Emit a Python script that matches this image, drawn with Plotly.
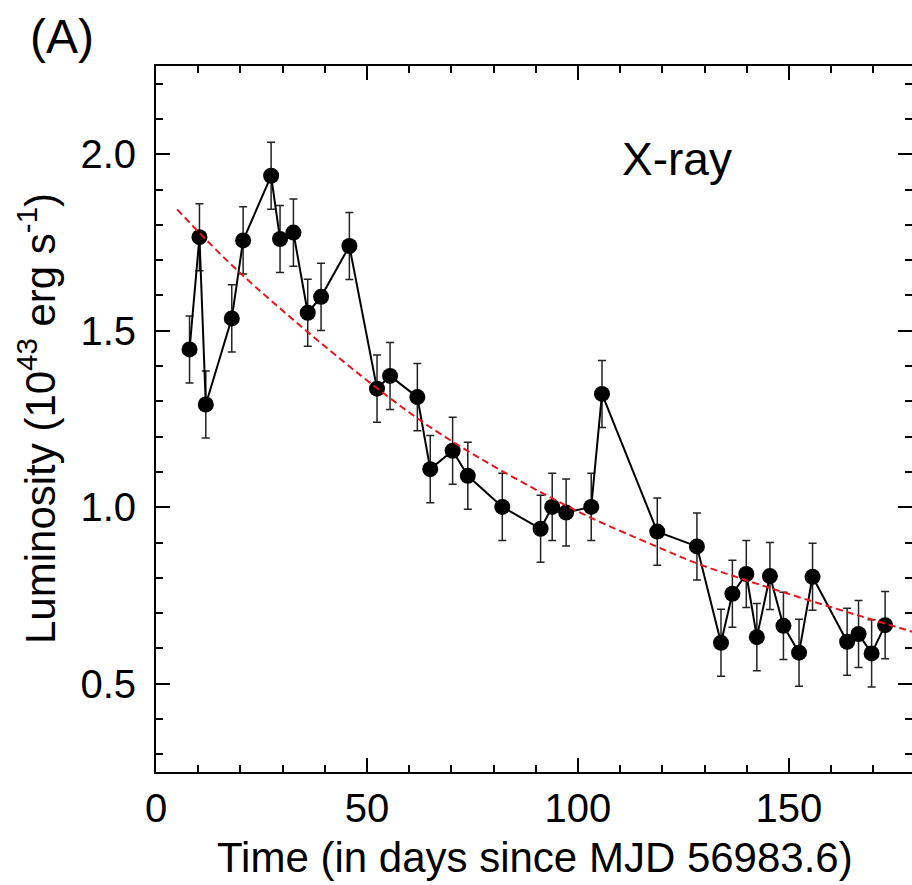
import plotly.graph_objects as go

# Observed X-ray light curve
t_days = [7.95, 10.3, 11.8, 17.96, 20.65, 27.28, 29.4, 32.57, 35.96, 39.12,
          45.83, 52.38, 55.47, 61.94, 65.0, 70.3, 73.9, 82.07, 91.15, 93.9,
          97.2, 103.15, 105.7, 118.8, 128.2, 133.9, 136.6, 139.9, 142.4, 145.5,
          148.7, 152.4, 155.6, 163.8, 166.5, 169.6, 172.8]
lum = [1.447, 1.765, 1.291, 1.535, 1.756, 1.939, 1.760, 1.778, 1.551, 1.596,
       1.740, 1.336, 1.372, 1.312, 1.108, 1.160, 1.089, 1.001, 0.939, 1.001,
       0.985, 1.001, 1.321, 0.931, 0.889, 0.616, 0.755, 0.811, 0.632, 0.805,
       0.664, 0.588, 0.803, 0.619, 0.641, 0.586, 0.666]
lum_err = [0.095, 0.095, 0.095, 0.095, 0.095, 0.095, 0.095, 0.095, 0.095, 0.095,
           0.095, 0.095, 0.095, 0.095, 0.095, 0.095, 0.095, 0.095, 0.095, 0.095,
           0.095, 0.095, 0.095, 0.095, 0.095, 0.095, 0.095, 0.095, 0.095, 0.095,
           0.095, 0.095, 0.095, 0.095, 0.095, 0.095, 0.095]

# Fit curve
fit_t = [5, 20, 52.4, 70, 99, 118.8, 128.2, 138.4, 155.8, 179.2]
fit_l = [1.844, 1.663, 1.337, 1.188, 0.994, 0.888, 0.841, 0.799, 0.7325, 0.6475]

x_ticks = [0, 50, 100, 150]
y_ticks = [0.5, 1.0, 1.5, 2.0]
y_ticktext = ["0.5", "1.0", "1.5", "2.0"]

FONT = "Liberation Sans, Arial, Helvetica, sans-serif"

fig = go.Figure()
fig.add_trace(go.Scatter(
    x=t_days, y=lum, mode="lines+markers",
    line=dict(color="black", width=2),
    marker=dict(color="black", size=16),
    error_y=dict(type="data", array=lum_err, visible=True,
                 color="#222222", thickness=1.5, width=4),
    showlegend=False,
))
fig.add_trace(go.Scatter(
    x=fit_t, y=fit_l, mode="lines",
    line=dict(color="#e8161b", width=2, dash="7px,4px", shape="spline"),
    showlegend=False,
))
fig.add_trace(go.Scatter(x=[], y=[], yaxis="y2", showlegend=False))

axis_common = dict(
    showgrid=False, zeroline=False, showline=True, linecolor="black", linewidth=2,
    ticks="inside", ticklen=14, tickwidth=2, tickcolor="black",
    tickfont=dict(family=FONT, size=40, color="black"),
)

fig.update_layout(
    width=912, height=885,
    margin=dict(l=156, r=0, t=66, b=113),
    paper_bgcolor="white", plot_bgcolor="white",
    xaxis=dict(range=[0, 179.17], tickvals=x_ticks, mirror="ticks",
               minor=dict(dtick=10, tick0=0, ticks="inside", ticklen=7,
                          tickwidth=2, tickcolor="black"),
               ticklabelstandoff=0, **axis_common),
    yaxis=dict(range=[0.25, 2.25], tickvals=y_ticks, ticktext=y_ticktext,
               minor=dict(dtick=0.1, tick0=0, ticks="inside", ticklen=7,
                          tickwidth=2, tickcolor="black"),
               ticklabelstandoff=10, **axis_common),
    yaxis2=dict(range=[0.25, 2.25], overlaying="y", side="right",
                tickvals=y_ticks, showticklabels=False, showgrid=False,
                zeroline=False, showline=False,
                ticks="inside", ticklen=14, tickwidth=2, tickcolor="black",
                minor=dict(dtick=0.1, tick0=0, ticks="inside", ticklen=7,
                           tickwidth=2, tickcolor="black")),
    annotations=[
        dict(text="Time (in days since MJD 56983.6)", xref="paper", yref="paper",
             x=(535 - 156) / 756, y=(772 - 857) / 706, xanchor="center",
             yanchor="middle", showarrow=False,
             font=dict(family=FONT, size=42, color="black")),
        dict(text="Luminosity (10<sup>43</sup> erg s<sup>-1</sup>)",
             xref="paper", yref="paper", x=(37 - 156) / 756, y=0.5,
             xanchor="center", yanchor="middle", textangle=-90, showarrow=False,
             font=dict(family=FONT, size=42, color="black")),
        dict(text="X-ray", xref="x", yref="y", x=123.4, y=1.987,
             xanchor="center", yanchor="middle", showarrow=False,
             font=dict(family=FONT, size=46, color="black")),
        dict(text="(A)", xref="paper", yref="paper", x=(62 - 156) / 756,
             y=(772 - 36) / 706, xanchor="center", yanchor="middle",
             showarrow=False, font=dict(family=FONT, size=48, color="black")),
    ],
)

fig.write_html("out.html")
